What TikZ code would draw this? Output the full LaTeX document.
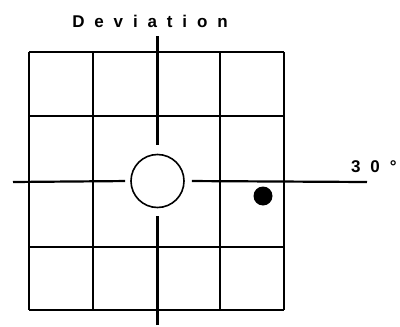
\documentclass[tikz,border=0pt]{standalone}
\usepackage{fontspec}
\newfontfamily\labelfont[LetterSpace=58]{Liberation Sans Bold}

\begin{document}
\begin{tikzpicture}[
  x=1pt, y=-1pt,
  every node/.style={inner sep=1pt},
  grid/.style={draw, line width=2.2pt},
  axis/.style={draw, line width=2.2pt},
  fixation/.style={circle, draw, line width=1.6pt, fill=white, minimum size=53pt, inner sep=0pt},
  target/.style={circle, fill=black, minimum size=19pt, inner sep=0pt},
  lbl/.style={font=\labelfont\fontsize{17}{17}\selectfont}]

  \useasboundingbox (0,0) rectangle (400,327);

  % grid of 4 x 4 squares
  \foreach \gx in {29,93,220,284} {\draw[grid] (\gx,52) -- (\gx,310);}
  \foreach \gy in {52,116,247,310} {\draw[grid] (29,\gy) -- (284,\gy);}

  % fixation point and stimulus
  \node[fixation] (fix) at (157.5,181) {};
  \node[target]   (dot) at (263,196) {};

  % axes through the fixation point
  \coordinate (top)   at (157.5,36);
  \coordinate (bot)   at (157.5,325);
  \coordinate (left)  at (13,182);
  \coordinate (right) at (367,182);
  \draw[axis, shorten >=9pt] (top)   -- (fix.north);
  \draw[axis, shorten >=8pt] (bot)   -- (fix.south);
  \draw[axis, shorten >=5pt] (left)  -- (fix.west);
  \draw[axis, shorten >=7pt] (right) -- (fix.east);

  % labels
  \node[lbl] (dev) at (150,21) {Deviation};
  \node[lbl, anchor=west] (deg) at (350,167) {30°};
\end{tikzpicture}
\end{document}
